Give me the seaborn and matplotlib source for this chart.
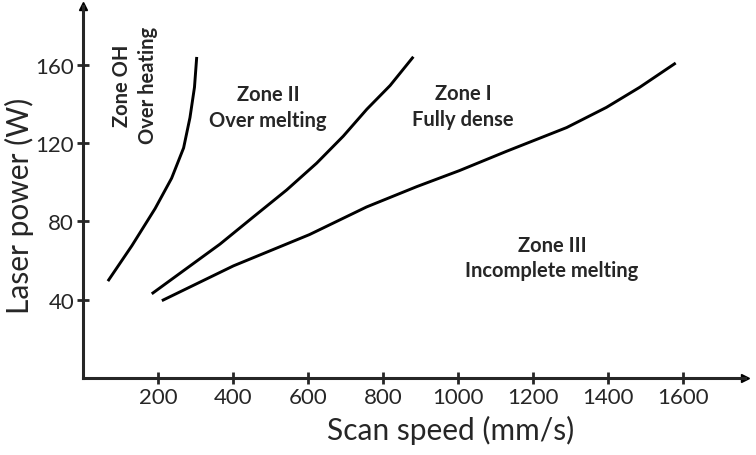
import matplotlib
matplotlib.use("Agg")
import matplotlib.pyplot as plt
import pandas as pd
import seaborn as sns

sns.set_style("ticks")
plt.rcParams["font.family"] = ["Lato", "DejaVu Sans"]

# boundary curves (scan speed mm/s, laser power W)
oh_speed = [66, 130, 192, 236, 268, 285, 297, 303]
oh_power = [49.5, 67.6, 86.6, 102.1, 117.6, 133.1, 148.6, 164.1]

zone2_speed = [183, 365, 454, 543, 623, 694, 757, 819, 881]
zone2_power = [43.0, 68.4, 82.3, 96.1, 109.8, 123.6, 137.4, 149.5, 164.2]

zone1_speed = [210, 401, 604, 756, 890, 1004, 1130, 1290, 1396, 1485, 1581]
zone1_power = [39.5, 57.3, 73.3, 87.4, 97.8, 106.0, 115.9, 128.0, 138.3, 148.6, 161.0]

x_ticks = [200, 400, 600, 800, 1000, 1200, 1400, 1600]
y_ticks = [40, 80, 120, 160]

zone_labels = ["Zone OH\nOver heating", "Zone II\nOver melting",
               "Zone I\nFully dense", "Zone III\nIncomplete melting"]
label_x = [139, 493, 1013, 1251]
label_y = [150, 138.6, 139, 61.5]
label_rot = [90, 0, 0, 0]

curves = pd.concat([
    pd.DataFrame({"speed": oh_speed, "power": oh_power, "curve": "OH"}),
    pd.DataFrame({"speed": zone2_speed, "power": zone2_power, "curve": "II"}),
    pd.DataFrame({"speed": zone1_speed, "power": zone1_power, "curve": "I"}),
])

fig = plt.figure(figsize=(7.56, 4.56), dpi=100)
ax = fig.add_axes([0.11, 0.169, 0.875, 0.815])

for name, grp in curves.groupby("curve", sort=False):
    sns.lineplot(data=grp, x="speed", y="power", sort=False, color="black",
                 linewidth=2.1, ax=ax, solid_joinstyle="round", solid_capstyle="butt")

ax.set_xlim(0, 1765)
ax.set_ylim(0, 190)
ax.set_xticks(x_ticks)
ax.set_yticks(y_ticks)
ax.tick_params(direction="inout", length=9, width=2, labelsize=16, pad=2)

sns.despine(ax=ax)
for side in ["left", "bottom"]:
    ax.spines[side].set_linewidth(2.2)
ax.plot(1, 0, ">", color="black", markersize=6, transform=ax.transAxes, clip_on=False)
ax.plot(0, 1, "^", color="black", markersize=6, transform=ax.transAxes, clip_on=False)

for txt, x, y, rot in zip(zone_labels, label_x, label_y, label_rot):
    ax.text(x, y, txt, ha="center", va="center", rotation=rot, fontsize=14.5,
            fontweight="bold", linespacing=1.35)

ax.set_xlabel("Scan speed (mm/s)", fontsize=21.5)
ax.set_ylabel("Laser power (W)", fontsize=21.5)
ax.xaxis.set_label_coords(0.556, -0.1)
ax.yaxis.set_label_coords(-0.075, 0.465)

plt.savefig("out.png", dpi=100)
plt.close()
